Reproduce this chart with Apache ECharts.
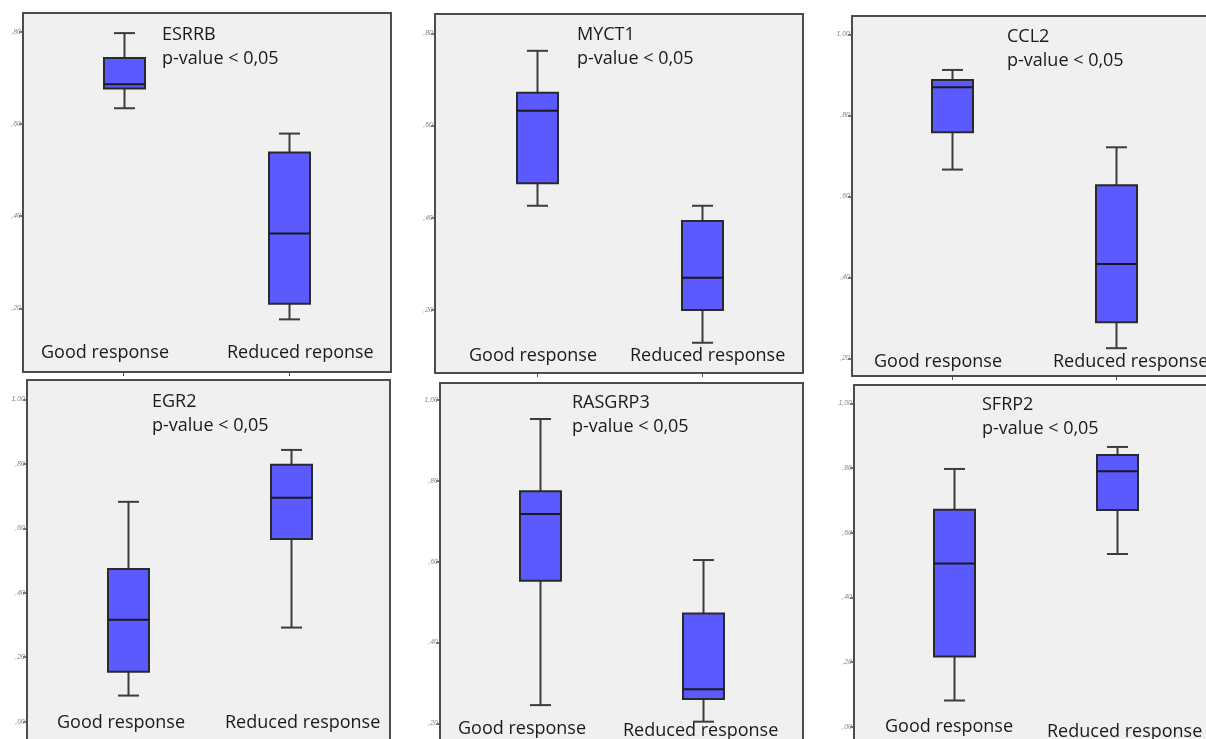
<!DOCTYPE html>
<html>
<head>
<meta charset="utf-8">
<script src="https://cdn.jsdelivr.net/npm/echarts@6/dist/echarts.min.js"></script>
<style>
  html, body { margin: 0; padding: 0; background: #ffffff; }
  #chart { width: 1206px; height: 739px; }
</style>
</head>
<body>
<div id="chart"></div>
<script>
// Genes shown, one panel each
const genes = ['ESRRB', 'MYCT1', 'CCL2', 'EGR2', 'RASGRP3', 'SFRP2'];
// Group names written under the boxes (first panel spells the second one differently)
const groupNames = ['Good response', 'Reduced response'];
const groupNamesFirst = ['Good response', 'Reduced reponse'];
const pValueNote = 'p-value < 0,05';

// Box statistics per group: [lower whisker, Q1, median, Q3, upper whisker]
const esrrbGood      = [0.634, 0.677, 0.686, 0.743, 0.797];
const esrrbReduced   = [0.176, 0.210, 0.362, 0.538, 0.579];
const myct1Good      = [0.426, 0.475, 0.632, 0.671, 0.762];
const myct1Reduced   = [0.129, 0.200, 0.270, 0.393, 0.426];
const ccl2Good       = [0.666, 0.758, 0.869, 0.887, 0.912];
const ccl2Reduced    = [0.225, 0.289, 0.433, 0.627, 0.721];
const egr2Good       = [0.081, 0.155, 0.316, 0.474, 0.682];
const egr2Reduced    = [0.292, 0.567, 0.695, 0.797, 0.843];
const rasgrp3Good    = [0.245, 0.553, 0.718, 0.774, 0.953];
const rasgrp3Reduced = [0.204, 0.260, 0.284, 0.472, 0.604];
const sfrp2Good      = [0.081, 0.217, 0.505, 0.671, 0.797];
const sfrp2Reduced   = [0.534, 0.670, 0.790, 0.840, 0.865];

// Y tick values
const yTicksTo80   = [0.2, 0.4, 0.6, 0.8];
const yTicksFrom20 = [0.2, 0.4, 0.6, 0.8, 1.0];
const yTicksFrom00 = [0.0, 0.2, 0.4, 0.6, 0.8, 1.0];
// Group positions on the x scale
const groupPositions = [1, 2];

const statsByGene = [
  [esrrbGood, esrrbReduced],
  [myct1Good, myct1Reduced],
  [ccl2Good, ccl2Reduced],
  [egr2Good, egr2Reduced],
  [rasgrp3Good, rasgrp3Reduced],
  [sfrp2Good, sfrp2Reduced]
];
const ticksByGene = [yTicksTo80, yTicksTo80, yTicksFrom20, yTicksFrom00, yTicksFrom20, yTicksFrom00];

// Panel geometry: plot frame, axis ranges, note and group-label anchors
const panelLayout = [
  { rect: [23, 13, 368, 359],  x: [0.3927, 2.6163], y: [0.0618, 0.8406],  note: [162, 35],  names: [[41, 353], [227, 353]] },
  { rect: [435, 14, 368, 359], x: [0.3818, 2.6121], y: [0.0634, 0.8418],  note: [577, 35],  names: [[469, 356], [630, 356]] },
  { rect: [852, 16, 368, 360], x: [0.3902, 2.6341], y: [0.1563, 1.0452],  note: [1007, 37], names: [[874, 362], [1053, 362]] },
  { rect: [27, 380, 363, 361], x: [0.3833, 2.6062], y: [-0.0599, 1.0599], note: [152, 402], names: [[57, 723], [225, 723]] },
  { rect: [440, 383, 363, 359], x: [0.3865, 2.6135], y: [0.1537, 1.0421], note: [572, 403], names: [[458, 729], [623, 731]] },
  { rect: [854, 385, 368, 359], x: [0.3865, 2.6442], y: [-0.0535, 1.0566], note: [982, 405], names: [[885, 727], [1047, 732]] }
];

const TEXT_FONT = '18px "Open Sans", "Liberation Sans", sans-serif';
const TEXT_COLOR = '#1a1a1a';

function formatTick(v) {
  const s = Math.abs(v).toFixed(2).replace('.', ',');
  return s.charAt(0) === '0' ? s.slice(1) : s;
}

function renderBox(params, api) {
  const xv = api.value(0);
  const lo = api.coord([xv, api.value(1)]);
  const q1 = api.coord([xv, api.value(2)]);
  const md = api.coord([xv, api.value(3)]);
  const q3 = api.coord([xv, api.value(4)]);
  const hi = api.coord([xv, api.value(5)]);
  const cx = Math.round(lo[0]) + 0.5;
  const bw = 41, cw = 21;
  const wl = { stroke: '#3c3c3c', lineWidth: 2 };
  return {
    type: 'group',
    children: [
      { type: 'line', shape: { x1: cx, y1: hi[1], x2: cx, y2: q3[1] }, style: wl },
      { type: 'line', shape: { x1: cx, y1: q1[1], x2: cx, y2: lo[1] }, style: wl },
      { type: 'line', shape: { x1: cx - cw / 2, y1: hi[1], x2: cx + cw / 2, y2: hi[1] }, style: wl },
      { type: 'line', shape: { x1: cx - cw / 2, y1: lo[1], x2: cx + cw / 2, y2: lo[1] }, style: wl },
      { type: 'rect', shape: { x: cx - bw / 2, y: q3[1], width: bw, height: q1[1] - q3[1] },
        style: { fill: '#5a5aff', stroke: '#2a2a2a', lineWidth: 2 } },
      { type: 'line', shape: { x1: cx - bw / 2, y1: md[1], x2: cx + bw / 2, y2: md[1] },
        style: { stroke: '#1a1a1a', lineWidth: 2 } }
    ]
  };
}

const grid = [], xAxis = [], yAxis = [], series = [], graphic = [];

panelLayout.forEach((p, i) => {
  grid.push({
    left: p.rect[0], top: p.rect[1], width: p.rect[2], height: p.rect[3],
    show: true, backgroundColor: '#f0f0f0', borderColor: '#4c4c4c', borderWidth: 2,
    containLabel: false, outerBoundsMode: 'none'
  });
  xAxis.push({
    gridIndex: i, type: 'value', min: p.x[0], max: p.x[1], position: 'bottom',
    axisLine: { show: false, onZero: false },
    axisTick: { show: true, customValues: groupPositions, length: 4, lineStyle: { color: '#4c4c4c', width: 1 } },
    axisLabel: { show: false },
    splitLine: { show: false }
  });
  yAxis.push({
    gridIndex: i, type: 'value', min: p.y[0], max: p.y[1], position: 'left',
    axisLine: { show: false, onZero: false },
    axisTick: { show: true, customValues: ticksByGene[i], length: 4, lineStyle: { color: '#4c4c4c', width: 1.5 } },
    axisLabel: {
      show: true, customValues: ticksByGene[i], formatter: formatTick, margin: 2,
      fontSize: 7, fontStyle: 'italic', color: '#8a8a8a', fontFamily: 'Liberation Sans'
    },
    splitLine: { show: false }
  });
  const stats = statsByGene[i];
  series.push({
    type: 'custom', xAxisIndex: i, yAxisIndex: i,
    renderItem: renderBox,
    encode: { x: 0, y: [1, 2, 3, 4, 5] },
    data: groupPositions.map((g, k) => [g].concat(stats[k]))
  });

  // gene name and significance note
  graphic.push({
    type: 'text', x: p.note[0], y: p.note[1], silent: true,
    style: { text: genes[i], font: TEXT_FONT, fill: TEXT_COLOR, verticalAlign: 'middle' }
  });
  graphic.push({
    type: 'text', x: p.note[0], y: p.note[1] + 24, silent: true,
    style: { text: pValueNote, font: TEXT_FONT, fill: TEXT_COLOR, verticalAlign: 'middle' }
  });
  // group names inside the frame
  const names = i === 0 ? groupNamesFirst : groupNames;
  p.names.forEach((pos, k) => {
    graphic.push({
      type: 'text', x: pos[0], y: pos[1], silent: true,
      style: { text: names[k], font: TEXT_FONT, fill: TEXT_COLOR, verticalAlign: 'middle' }
    });
  });
});

const chart = echarts.init(document.getElementById('chart'), null, { renderer: 'canvas' });
chart.setOption({
  animation: false,
  backgroundColor: '#ffffff',
  grid, xAxis, yAxis, series, graphic
});
</script>
</body>
</html>
